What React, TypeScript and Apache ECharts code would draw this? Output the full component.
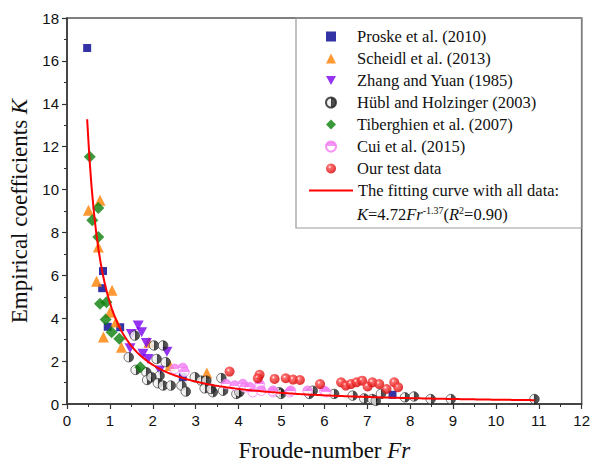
import React, { useEffect, useRef } from "react";
import * as echarts from "echarts";

// ---- Data: [Fr, K] ----
const proske: number[][] = [
  [0.47, 16.6], [0.84, 6.2], [0.82, 5.4], [0.95, 3.6], [1.24, 3.58], [2.7, 1.25], [7.59, 0.43],
];
const scheidl: number[][] = [
  [0.5, 9.03], [0.77, 9.5], [0.73, 7.32], [0.69, 5.72], [1.05, 5.3], [1.0, 4.28],
  [1.14, 3.82], [0.85, 3.12], [1.27, 2.65], [1.91, 2.88], [2.4, 1.79], [3.26, 1.45],
];
const zhang: number[][] = [
  [1.66, 3.66], [1.74, 3.35], [1.5, 3.27], [1.85, 2.85], [1.47, 2.6], [1.77, 2.34],
  [2.33, 2.44], [1.89, 2.1], [2.16, 1.56],
];
const hubl: number[][] = [
  [1.58, 3.19], [2.03, 2.73], [2.24, 2.73], [1.44, 2.18], [2.09, 2.1], [2.3, 1.95],
  [1.6, 1.59], [1.85, 1.48], [2.16, 1.32], [1.87, 1.12], [1.97, 1.25], [2.12, 0.97],
  [2.24, 0.86], [2.42, 0.86], [2.67, 0.86], [2.77, 0.58], [2.98, 1.25], [3.13, 1.09],
  [3.25, 1.09], [3.6, 1.21], [3.21, 0.73], [3.4, 0.55], [3.64, 0.62], [3.36, 0.7],
  [3.95, 0.47], [4.02, 0.55], [4.95, 0.55], [4.99, 0.47], [5.65, 0.47], [5.73, 0.62],
  [6.23, 0.47], [6.66, 0.39], [6.93, 0.26], [7.12, 0.23], [7.2, 0.15], [7.32, 0.47],
  [7.88, 0.31], [8.09, 0.35], [8.48, 0.23], [8.95, 0.23], [10.9, 0.23],
];
const tiberghien: number[][] = [
  [0.53, 11.53], [0.73, 9.14], [0.59, 8.57], [0.73, 7.79], [0.77, 4.67], [0.92, 4.75],
  [0.9, 3.94], [1.04, 3.35], [1.22, 3.04], [1.71, 1.71],
];
const cui: number[][] = [
  [2.51, 1.64], [2.7, 1.68], [2.74, 1.5], [3.71, 0.93], [3.91, 0.86], [4.1, 0.93],
  [4.14, 0.78], [4.26, 0.78], [4.33, 0.55], [4.49, 0.78], [4.49, 0.93], [4.53, 0.62],
  [4.8, 0.55], [4.8, 0.62], [5.19, 0.55], [5.22, 0.62], [5.61, 0.62], [6.0, 0.62], [6.04, 0.55],
];
const ours: number[][] = [
  [3.79, 1.51], [4.49, 1.36], [4.45, 1.2], [4.84, 1.17], [5.1, 1.2], [5.27, 1.14],
  [5.43, 1.12], [5.9, 0.93], [6.39, 1.01], [6.5, 0.86], [6.62, 0.93], [6.75, 1.01],
  [6.88, 1.09], [7.01, 0.82], [7.12, 1.01], [7.28, 0.93], [7.45, 0.7], [7.63, 1.01], [7.72, 0.78],
];

// Fitting curve K = a * Fr^b, as stated in the legend
const FIT_A = 4.72;
const FIT_B = -1.37;
const FIT_FR_START = 0.47;
const FIT_FR_END = 10.9;

const scatterNames = [
  "Proske et al. (2010)",
  "Scheidl et al. (2013)",
  "Zhang and Yuan (1985)",
  "Hübl and Holzinger (2003)",
  "Tiberghien et al. (2007)",
  "Cui et al. (2015)",
  "Our test data",
];
const fitName = "The fitting curve with all data:";

const xTicks = { min: 0, max: 12, interval: 1 };
const yTicks = { min: 0, max: 18, interval: 2 };

const SERIF = "'Liberation Serif', 'Times New Roman', serif";
const SANS = "'Liberation Sans', Arial, sans-serif";
const DOWN_TRIANGLE = "path://M0,0 L10,0 L5,9 Z";

export default function App() {
  const ref = useRef<HTMLDivElement>(null);
  useEffect(() => {
    if (!ref.current) return;
    const chart = echarts.init(ref.current, null, { renderer: "svg" });

    const fit: number[][] = [];
    const n = 200;
    for (let i = 0; i <= n; i++) {
      const fr = FIT_FR_START + ((FIT_FR_END - FIT_FR_START) * i) / n;
      fit.push([fr, FIT_A * Math.pow(fr, FIT_B)]);
    }

    const halfLR = new echarts.graphic.LinearGradient(0, 0, 1, 0, [
      { offset: 0, color: "#ffffff" },
      { offset: 0.5, color: "#e4e4e4" },
      { offset: 0.5, color: "#111111" },
      { offset: 1, color: "#3a3a3a" },
    ]);
    const halfTB = new echarts.graphic.LinearGradient(0, 0, 0, 1, [
      { offset: 0, color: "#f27cf2" },
      { offset: 0.5, color: "#f27cf2" },
      { offset: 0.5, color: "#ffffff" },
      { offset: 1, color: "#ffffff" },
    ]);
    const redBall = new echarts.graphic.RadialGradient(0.38, 0.35, 0.65, [
      { offset: 0, color: "#ffffff" },
      { offset: 0.25, color: "#ff4a4a" },
      { offset: 1, color: "#d40000" },
    ]);

    const axisLineStyle = { color: "#333", width: 1.5 };
    const legendText = { color: "#111", fontSize: 16.5, fontFamily: SERIF, lineHeight: 17 };

    const option: any = {
      animation: false,
      backgroundColor: "#ffffff",
      grid: {
        left: 67, right: 11, top: 18, bottom: 62,
        show: true, borderColor: "#555", borderWidth: 1.5, backgroundColor: "transparent",
      },
      xAxis: {
        type: "value",
        ...xTicks,
        axisLine: { show: true, onZero: false, lineStyle: axisLineStyle },
        axisTick: { show: true, length: 5, lineStyle: { color: "#333", width: 1.2 } },
        minorTick: { show: true, splitNumber: 2, length: 3, lineStyle: { color: "#333", width: 1 } },
        splitLine: { show: false },
        axisLabel: { color: "#111", fontSize: 15, fontFamily: SANS, margin: 9 },
        name: "Froude-number {i|Fr}",
        nameLocation: "middle",
        nameGap: 35,
        nameTextStyle: {
          color: "#111", fontSize: 23, fontFamily: SERIF,
          rich: { i: { fontStyle: "italic", fontSize: 23, fontFamily: SERIF, color: "#111" } },
        },
      },
      yAxis: {
        type: "value",
        ...yTicks,
        axisLine: { show: true, onZero: false, lineStyle: axisLineStyle },
        axisTick: { show: true, length: 5, lineStyle: { color: "#333", width: 1.2 } },
        minorTick: { show: true, splitNumber: 2, length: 3, lineStyle: { color: "#333", width: 1 } },
        splitLine: { show: false },
        axisLabel: { color: "#111", fontSize: 15, fontFamily: SANS, margin: 8 },
        name: "Empirical coefficients {i|K}",
        nameLocation: "middle",
        nameGap: 34,
        nameRotate: 90,
        nameTextStyle: {
          color: "#111", fontSize: 23, fontFamily: SERIF,
          rich: { i: { fontStyle: "italic", fontSize: 23, fontFamily: SERIF, color: "#111" } },
        },
      },
      legend: [
        {
          left: 325,
          top: 28,
          orient: "vertical",
          itemWidth: 10,
          itemHeight: 10,
          itemGap: 5,
          padding: 0,
          data: scatterNames,
          textStyle: { ...legendText, padding: [0, 0, 0, 16] },
        },
        {
          left: 309,
          top: 182,
          orient: "vertical",
          itemWidth: 44,
          itemHeight: 2,
          padding: 0,
          icon: "rect",
          data: [fitName],
          textStyle: { ...legendText },
        },
      ],
      graphic: [
        {
          type: "rect",
          shape: { x: 296, y: 18, width: 286, height: 210 },
          style: { fill: "none", stroke: "#999", lineWidth: 1.2 },
          z: 1,
        },
        {
          type: "text",
          x: 357,
          y: 214,
          style: {
            text: "{i|K}{n|=4.72}{i|Fr}{s|-1.37}{n|(}{i|R}{s|2}{n|=0.90)}",
            verticalAlign: "middle",
            rich: {
              i: { fontStyle: "italic", fontSize: 16.5, fontFamily: SERIF, fill: "#111", lineHeight: 18, verticalAlign: "bottom" },
              n: { fontSize: 16.5, fontFamily: SERIF, fill: "#111", lineHeight: 18, verticalAlign: "bottom" },
              s: { fontSize: 10, fontFamily: SERIF, fill: "#111", lineHeight: 18, verticalAlign: "top" },
            },
          },
        },
      ],
      series: [
        {
          name: scatterNames[0], type: "scatter", data: proske, symbol: "rect", symbolSize: 8,
          itemStyle: { color: "#00008f" }, z: 3,
        },
        {
          name: scatterNames[1], type: "scatter", data: scheidl, symbol: "triangle", symbolSize: 11,
          itemStyle: { color: "#ff8000" }, z: 3,
        },
        {
          name: scatterNames[2], type: "scatter", data: zhang, symbol: DOWN_TRIANGLE,
          symbolSize: [11, 10], itemStyle: { color: "#7a00f0" }, z: 3,
        },
        {
          name: scatterNames[3], type: "scatter", data: hubl, symbol: "circle", symbolSize: 9.5,
          itemStyle: { color: halfLR, borderColor: "#222", borderWidth: 0.8 }, z: 3,
        },
        {
          name: scatterNames[4], type: "scatter", data: tiberghien, symbol: "diamond", symbolSize: [12, 12],
          itemStyle: { color: "#0a800a" }, z: 3,
        },
        {
          name: scatterNames[5], type: "scatter", data: cui, symbol: "circle", symbolSize: 9.5,
          itemStyle: { color: halfTB, borderColor: "#f27cf2", borderWidth: 1 }, z: 3,
        },
        {
          name: scatterNames[6], type: "scatter", data: ours, symbol: "circle", symbolSize: 10,
          itemStyle: { color: redBall }, z: 3,
        },
        {
          name: fitName, type: "line", data: fit, showSymbol: false, symbol: "none",
          lineStyle: { color: "#ff0000", width: 2 }, itemStyle: { color: "#ff0000" }, z: 5,
        },
      ],
    };
    chart.setOption(option);
    return () => chart.dispose();
  }, []);
  return <div ref={ref} style={{ width: 593, height: 467, position: "absolute", left: 0, top: 0 }} />;
}
